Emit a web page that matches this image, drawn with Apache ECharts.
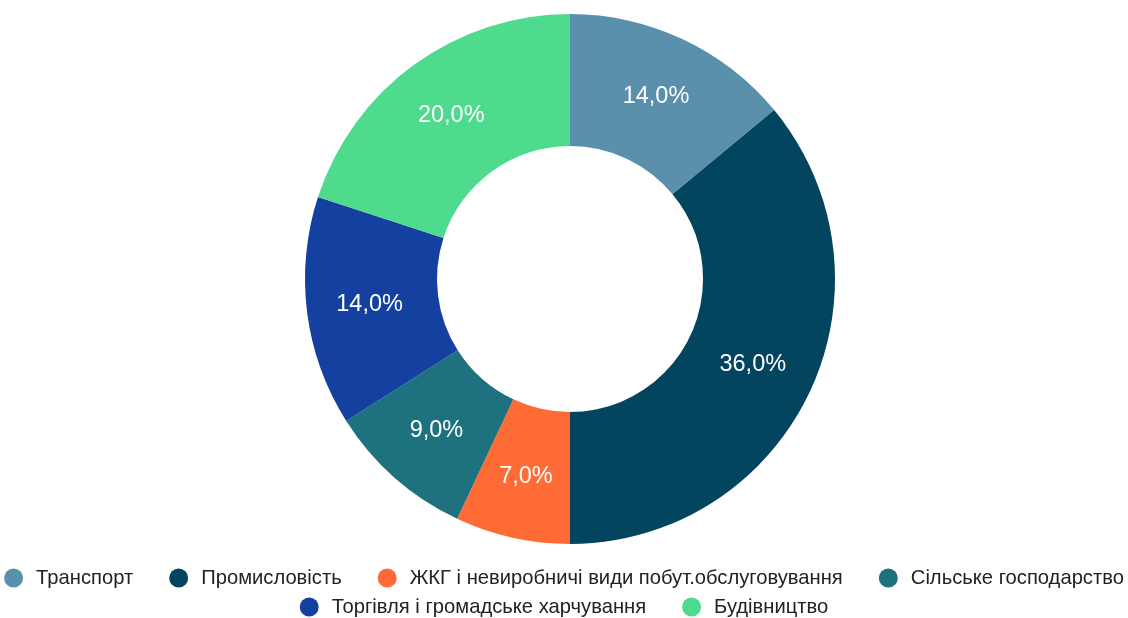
<!DOCTYPE html>
<html>
<head>
<meta charset="utf-8">
<script src="https://cdn.jsdelivr.net/npm/echarts@6/dist/echarts.min.js"></script>
<style>
  html, body { margin: 0; padding: 0; background: #ffffff; }
  #chart { width: 1128px; height: 618px; }
</style>
</head>
<body>
<div id="chart"></div>
<script>
// Sectors of the economy and their shares, %
const categories = [
  'Транспорт',
  'Промисловість',
  'ЖКГ і невиробничі види побут.обслуговування',
  'Сільське господарство',
  'Торгівля і громадське харчування',
  'Будівництво'
];
const shares = [14.0, 36.0, 7.0, 9.0, 14.0, 20.0];
const colors = ['#5b90ad', '#03445e', '#ff6b35', '#1e717e', '#1441a0', '#4edb8d'];

// Legend is laid out in two centred rows
const legendRows = [categories.slice(0, 4), categories.slice(4)];
const legendTops = [568, 597];

const fontFamily = 'Liberation Sans, Arial, sans-serif';

const chart = echarts.init(document.getElementById('chart'));
chart.setOption({
  animation: false,
  color: colors,
  legend: legendRows.map((row, i) => ({
    left: 'center',
    top: legendTops[i],
    orient: 'horizontal',
    icon: 'circle',
    itemWidth: 19,
    itemHeight: 19,
    itemGap: 36,
    padding: 0,
    textStyle: { fontFamily, fontSize: 20.2, color: '#222', padding: [0, 0, 0, 8] },
    data: row
  })),
  series: [{
    type: 'pie',
    center: [570, 279],
    radius: [133, 265],
    startAngle: 90,
    clockwise: true,
    avoidLabelOverlap: false,
    label: {
      show: true,
      position: 'inside',
      color: '#ffffff',
      fontFamily,
      fontSize: 23.5,
      formatter: p => p.value.toFixed(1).replace('.', ',') + '%'
    },
    labelLine: { show: false },
    itemStyle: { borderWidth: 0 },
    data: categories.map((name, i) => ({ name, value: shares[i] }))
  }]
});
</script>
</body>
</html>
